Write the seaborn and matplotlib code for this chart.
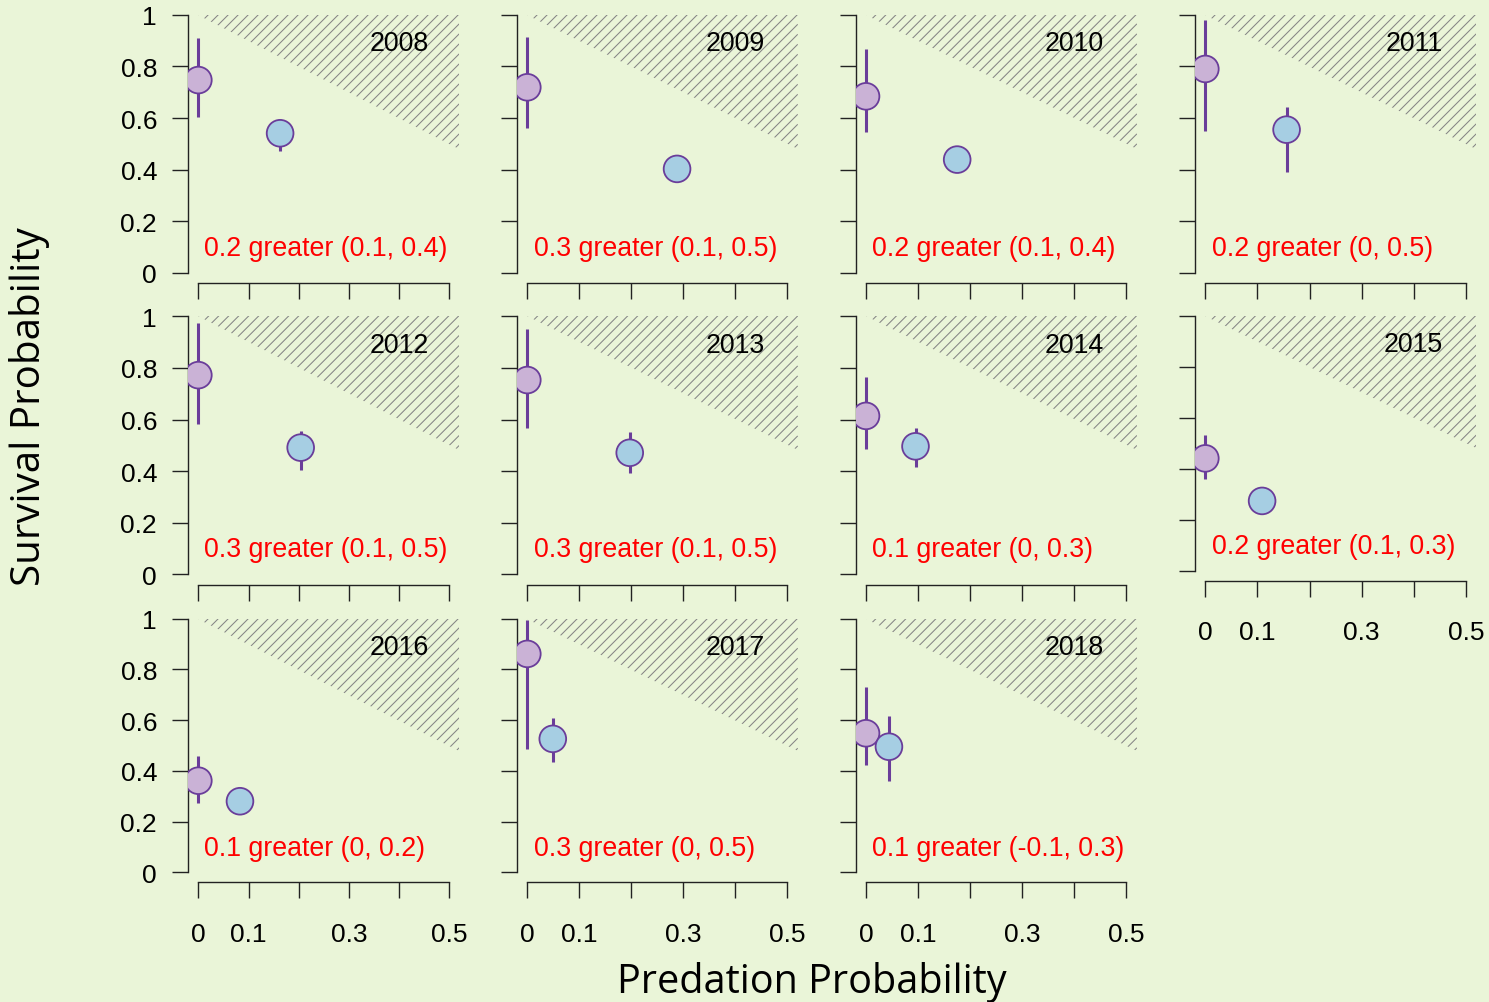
import numpy as np
import pandas as pd
import matplotlib
matplotlib.use("Agg")
import matplotlib.pyplot as plt
from matplotlib.patches import Polygon
from matplotlib.collections import LineCollection
import seaborn as sns

# ---------------- data ----------------
years = [2008, 2009, 2010, 2011, 2012, 2013, 2014, 2015, 2016, 2017, 2018]
pred_prob = [0.163, 0.288, 0.175, 0.156, 0.204, 0.197, 0.095, 0.109, 0.083, 0.049, 0.044]
surv_nopred = [0.747, 0.719, 0.684, 0.790, 0.772, 0.753, 0.614, 0.441, 0.361, 0.861, 0.548]
surv_nopred_lo = [0.603, 0.560, 0.545, 0.550, 0.583, 0.566, 0.486, 0.359, 0.273, 0.486, 0.423]
surv_nopred_hi = [0.909, 0.912, 0.867, 0.981, 0.974, 0.951, 0.763, 0.533, 0.460, 0.996, 0.730]
surv_pred = [0.541, 0.403, 0.439, 0.555, 0.491, 0.471, 0.496, 0.274, 0.280, 0.526, 0.495]
surv_pred_lo = [0.471, 0.380, 0.410, 0.390, 0.403, 0.393, 0.417, 0.250, 0.260, 0.434, 0.361]
surv_pred_hi = [0.580, 0.430, 0.470, 0.644, 0.557, 0.553, 0.568, 0.300, 0.300, 0.607, 0.618]
diff_text = ["0.2 greater (0.1, 0.4)", "0.3 greater (0.1, 0.5)", "0.2 greater (0.1, 0.4)",
             "0.2 greater (0, 0.5)", "0.3 greater (0.1, 0.5)", "0.3 greater (0.1, 0.5)",
             "0.1 greater (0, 0.3)", "0.2 greater (0.1, 0.3)", "0.1 greater (0, 0.2)",
             "0.3 greater (0, 0.5)", "0.1 greater (-0.1, 0.3)"]
x_ticks = [0, 0.1, 0.2, 0.3, 0.4, 0.5]
x_ticklabels = ["0", "0.1", "", "0.3", "", "0.5"]
y_ticks = [0, 0.2, 0.4, 0.6, 0.8, 1.0]
y_ticklabels = ["0", "0.2", "0.4", "0.6", "0.8", "1"]
x_label = "Predation Probability"
y_label = "Survival Probability"

# ---------------- style ----------------
BG = "#EAF5D8"
FILL_NP = "#CAB2D6"
FILL_P = "#A6CEE3"
EDGE = "#6A3D9A"
HATCH = "#858585"
HATCH_SPACING_PX = 10.0
sns.set_theme(style="ticks", rc={"axes.facecolor": BG, "figure.facecolor": BG})
plt.rcParams["font.family"] = ["Liberation Sans", "DejaVu Sans"]

W, H = 1489, 1003
fig = plt.figure(figsize=(W / 100, H / 100), dpi=100)
fig.patch.set_facecolor(BG)

# panel pixel boxes (left, right, top, bottom) of plotting regions
cols = [(188.3, 459.2), (516.9, 797.7), (855.6, 1136.9), (1194.9, 1476.2)]
rows = [(5.4, 284.3), (307.0, 585.6), (609.5, 883.4)]
XLIM = (-0.02, 0.52)
YLIM = (-0.04, 1.04)
FS = 19.3
TFS = 19.0

for i, yr in enumerate(years):
    r, c = divmod(i, 4)
    left, right = cols[c]
    top, bottom = rows[r]
    if yr == 2015:
        top, bottom = 306.8, 581.9
    ax = fig.add_axes([left / W, 1 - bottom / H, (right - left) / W, (bottom - top) / H])
    ax.set_facecolor(BG)
    ax.set_xlim(*XLIM)
    ax.set_ylim(*YLIM)

    # hatched impossible region (survival > 1 - predation): 45-degree shading lines
    tri = Polygon([(0, 1), (0.52, 1), (0.52, 0.48)], closed=True, facecolor="none",
                  edgecolor="none", linewidth=0, zorder=1)
    ax.add_patch(tri)
    pxx = (right - left) / (XLIM[1] - XLIM[0])
    pxy = (bottom - top) / (YLIM[1] - YLIM[0])
    segs = []
    for k in np.arange(-60, 60):
        off = k * HATCH_SPACING_PX / pxy
        xa, xb = XLIM
        ya = 1.0 + (xa - 0.0) * pxx / pxy + off
        yb = 1.0 + (xb - 0.0) * pxx / pxy + off
        segs.append([(xa, ya), (xb, yb)])
    lc = LineCollection(segs, colors=HATCH, linewidths=0.75, zorder=1)
    ax.add_collection(lc)
    lc.set_clip_path(tri)

    # error bars
    ax.vlines([0, pred_prob[i]], [surv_nopred_lo[i], surv_pred_lo[i]],
              [surv_nopred_hi[i], surv_pred_hi[i]], color=EDGE, linewidth=2.2, zorder=2)
    df = pd.DataFrame({"pred": [0.0, pred_prob[i]],
                       "surv": [surv_nopred[i], surv_pred[i]],
                       "grp": ["No predation", "Predation"]})
    sns.scatterplot(data=df, x="pred", y="surv", hue="grp",
                    palette={"No predation": FILL_NP, "Predation": FILL_P},
                    s=370, edgecolor=EDGE, linewidth=1.3, legend=False, ax=ax, zorder=3)

    ax.text(0.4, 0.89, str(yr), ha="center", va="center", fontsize=FS, color="black")
    ax.text(0.012, 0.097, diff_text[i], ha="left", va="center", fontsize=FS, color="#FF0000")

    sns.despine(ax=ax)
    ax.spines["left"].set_bounds(0, 1)
    ax.spines["bottom"].set_bounds(0, 0.5)
    for s in ("left", "bottom"):
        ax.spines[s].set_color("#222222")
        ax.spines[s].set_linewidth(1.0)
    ax.set_xticks(x_ticks)
    ax.set_yticks(y_ticks)
    show_x = (r == 2) or (yr == 2015)
    show_y = (c == 0)
    ax.set_xticklabels(x_ticklabels if show_x else [""] * len(x_ticks))
    ax.set_yticklabels(y_ticklabels if show_y else [""] * len(y_ticks))
    ax.tick_params(axis="both", direction="out", length=11.5, width=1.0, color="#222222",
                   labelsize=TFS, labelcolor="black")
    ax.tick_params(axis="x", pad=17)
    ax.tick_params(axis="y", pad=11)
    ax.set_xlabel("")
    ax.set_ylabel("")
    ax.set_xlim(*XLIM)
    ax.set_ylim(*YLIM)

fig.text(30 / W, 1 - 407 / H, y_label, rotation=90, ha="center", va="center",
         fontsize=29, color="black", family=["Open Sans", "DejaVu Sans"])
fig.text(812 / W, 1 - 983 / H, x_label, ha="center", va="center",
         fontsize=28.5, color="black", family=["Open Sans", "DejaVu Sans"])

fig.savefig("out.png", dpi=100, facecolor=BG)
